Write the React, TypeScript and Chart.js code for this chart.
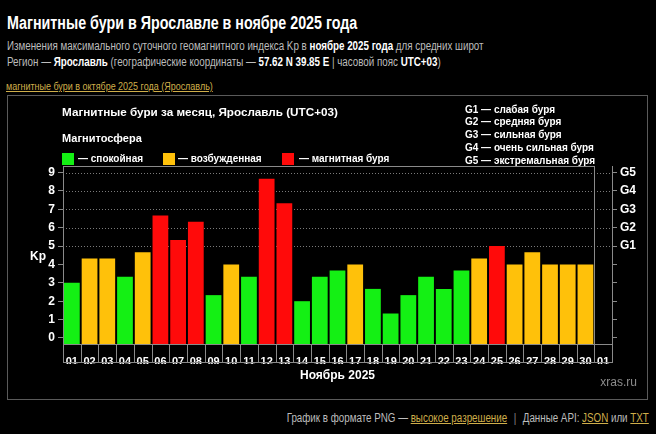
import React, { useEffect, useRef } from 'react';
import { Chart, registerables } from 'chart.js';

Chart.register(...registerables);

const days = ['01','02','03','04','05','06','07','08','09','10','11','12','13','14','15','16','17','18','19','20','21','22','23','24','25','26','27','28','29','30','01'];
const kpValues: (number | null)[] = [3.0, 4.33, 4.33, 3.33, 4.67, 6.67, 5.33, 6.33, 2.33, 4.0, 3.33, 8.67, 7.33, 2.0, 3.33, 3.67, 4.0, 2.67, 1.33, 2.33, 3.33, 2.67, 3.67, 4.33, 5.0, 4.0, 4.67, 4.0, 4.0, 4.0, null];
const kpTicks = [0, 1, 2, 3, 4, 5, 6, 7, 8, 9];
const gLevels = [5, 6, 7, 8, 9];
const gLabels = ['G1', 'G2', 'G3', 'G4', 'G5'];
const gDescriptions = ['G1 — слабая буря', 'G2 — средняя буря', 'G3 — сильная буря', 'G4 — очень сильная буря', 'G5 — экстремальная буря'];
const legendItems = ['— спокойная', '— возбужденная', '— магнитная буря'];
const monthTitle = 'Ноябрь 2025';
const chartTitle = 'Магнитные бури за месяц, Ярославль (UTC+03)';

const GREEN = '#14f014';
const ORANGE = '#ffc10a';
const RED = '#ff0a0a';
const GRID = '#8a8a8a';
const SANS = '"Liberation Sans", Arial, sans-serif';
const NARROW_SCALE = 0.816;

const colorFor = (v: number | null) => (v == null ? GREEN : v >= 5 ? RED : v >= 4 ? ORANGE : GREEN);

const Y_MIN = -0.33;
const Y_MAX = 9.36;

const overlayPlugin = {
  id: 'overlay',
  beforeDatasetsDraw(chart: any) {
    const { ctx, chartArea, scales } = chart;
    const y = scales.y;
    const x = scales.x;
    ctx.save();
    ctx.strokeStyle = '#7a7a7a';
    ctx.lineWidth = 1;
    ctx.setLineDash([1, 2]);
    gLevels.forEach((v) => {
      const py = Math.round(y.getPixelForValue(v)) + 0.5;
      ctx.beginPath();
      ctx.moveTo(chartArea.left, py);
      ctx.lineTo(chartArea.right, py);
      ctx.stroke();
    });
    ctx.setLineDash([]);
    const half = (x.getPixelForValue(1) - x.getPixelForValue(0)) / 2;
    const sepX = Math.round(x.getPixelForValue(days.length - 2) + half) + 0.5;
    ctx.strokeStyle = GRID;
    ctx.beginPath();
    ctx.moveTo(chartArea.left, Math.round(chartArea.top) + 0.5);
    ctx.lineTo(sepX, Math.round(chartArea.top) + 0.5);
    ctx.moveTo(sepX, chartArea.top);
    ctx.lineTo(sepX, chartArea.bottom);
    ctx.stroke();
    ctx.restore();
  },
  afterDraw(chart: any) {
    const { ctx, chartArea, scales } = chart;
    const x = scales.x;
    ctx.save();
    const step = x.getPixelForValue(1) - x.getPixelForValue(0);
    ctx.strokeStyle = GRID;
    ctx.lineWidth = 1;
    const top = Math.round(chartArea.bottom) + 0.5;
    for (let i = 0; i < days.length; i++) {
      const l = Math.round(x.getPixelForValue(i) - step / 2) + 0.5;
      const r = Math.round(x.getPixelForValue(i) + step / 2) + 0.5;
      ctx.strokeRect(l, top, r - l, 18);
    }
    ctx.fillStyle = '#ffffff';
    ctx.textBaseline = 'middle';
    ctx.font = `bold 12px ${SANS}`;
    ctx.textAlign = 'left';
    ctx.fillText('Kp', 22, 161);
    ctx.textAlign = 'center';
    ctx.fillText(monthTitle, (chartArea.left + chartArea.right) / 2, 280);
    ctx.fillStyle = '#8c8c8c';
    ctx.font = `12px ${SANS}`;
    ctx.textAlign = 'right';
    ctx.fillText('xras.ru', 629, 287);
    ctx.fillStyle = '#ffffff';
    ctx.textAlign = 'left';
    ctx.font = `bold 11.7px ${SANS}`;
    ctx.fillText(chartTitle, 54, 17);
    ctx.font = `bold 11px ${SANS}`;
    ctx.fillText('Магнитосфера', 54, 43);
    const sq = [54, 155, 274];
    const tx = [70, 170, 291];
    const cols = [GREEN, ORANGE, RED];
    ctx.font = `bold 10px ${SANS}`;
    for (let i = 0; i < 3; i++) {
      ctx.fillStyle = cols[i];
      ctx.fillRect(sq[i], 57, 12, 12);
      ctx.fillStyle = '#ffffff';
      ctx.fillText(legendItems[i], tx[i], 63);
    }
    const gy = [14, 26.5, 39, 52, 65];
    ctx.font = `bold 10px ${SANS}`;
    gDescriptions.forEach((t, i) => ctx.fillText(t, 457, gy[i]));
    ctx.restore();
  },
};

function KpChart() {
  const ref = useRef<HTMLCanvasElement | null>(null);
  useEffect(() => {
    if (!ref.current) return;
    const chart = new Chart(ref.current, {
      type: 'bar',
      data: {
        labels: days,
        datasets: [
          {
            data: kpValues as any,
            backgroundColor: kpValues.map(colorFor),
            borderWidth: 0,
            base: Y_MIN,
            barPercentage: 0.89,
            categoryPercentage: 1,
          } as any,
        ],
      },
      options: {
        animation: false,
        responsive: true,
        maintainAspectRatio: false,
        layout: { padding: { top: 70, bottom: 35, left: 0, right: 0 } },
        plugins: { legend: { display: false }, tooltip: { enabled: false }, title: { display: false } },
        scales: {
          x: {
            grid: { display: false },
            border: { display: false },
            ticks: {
              color: '#ffffff',
              font: { family: SANS, size: 11, weight: 'bold' },
              padding: 3,
              autoSkip: false,
              maxRotation: 0,
            },
            afterFit: (s: any) => { s.height = 20; },
          },
          y: {
            position: 'left',
            min: Y_MIN,
            max: Y_MAX,
            afterBuildTicks: (s: any) => { s.ticks = kpTicks.map((v) => ({ value: v })); },
            grid: { drawOnChartArea: false, drawTicks: true, tickLength: 5, color: GRID, tickColor: GRID },
            border: { display: true, color: GRID },
            ticks: { color: '#ffffff', font: { family: SANS, size: 12, weight: 'bold' }, padding: 3 },
            afterFit: (s: any) => { s.width = 55; },
          },
          y2: {
            position: 'right',
            min: Y_MIN,
            max: Y_MAX,
            afterBuildTicks: (s: any) => { s.ticks = kpTicks.map((v) => ({ value: v })); },
            grid: { drawOnChartArea: false, drawTicks: true, tickLength: 5, color: GRID, tickColor: GRID },
            border: { display: true, color: GRID },
            ticks: {
              color: '#ffffff',
              font: { family: SANS, size: 12, weight: 'bold' },
              padding: 3,
              callback: (v: any) => {
                const idx = gLevels.indexOf(Number(v));
                return idx >= 0 ? gLabels[idx] : '';
              },
            },
            afterFit: (s: any) => { s.width = 35; },
          },
        },
      } as any,
      plugins: [overlayPlugin],
    });
    return () => chart.destroy();
  }, []);
  return <canvas ref={ref} />;
}

const linkStyle: React.CSSProperties = { color: '#cfae4a', textDecoration: 'underline' };

export default function App() {
  useEffect(() => {
    document.body.style.margin = '0';
    document.body.style.background = '#000';
    document.documentElement.style.background = '#000';
  }, []);
  const abs = (top: number, extra: React.CSSProperties = {}): React.CSSProperties => ({
    position: 'absolute', top, left: 7, whiteSpace: 'nowrap',
    transform: `scaleX(${NARROW_SCALE})`, transformOrigin: 'left center', ...extra,
  });
  return (
    <div style={{ position: 'relative', width: 656, height: 434, background: '#000', overflow: 'hidden', fontFamily: SANS }}>
      <div style={abs(13, { fontSize: 17.5, lineHeight: '20px', fontWeight: 'bold', color: '#fff' })}>
        Магнитные бури в Ярославле в ноябре 2025 года
      </div>
      <div style={abs(39, { fontSize: 12, lineHeight: '14px', color: '#bdbdbd' })}>
        Изменения максимального суточного геомагнитного индекса Kp в <b style={{ color: '#fff' }}>ноябре 2025 года</b> для средних широт
      </div>
      <div style={abs(55, { fontSize: 12, lineHeight: '14px', color: '#bdbdbd' })}>
        Регион — <b style={{ color: '#fff' }}>Ярославль</b> (географические координаты — <b style={{ color: '#fff' }}>57.62 N 39.85 E</b> | часовой пояс <b style={{ color: '#fff' }}>UTC+03</b>)
      </div>
      <div style={abs(80, { fontSize: 11, lineHeight: '13px', left: 6 })}>
        <span style={linkStyle}>магнитные бури в октябре 2025 года (Ярославль)</span>
      </div>
      <div style={{ position: 'absolute', left: 7, top: 95, width: 641, height: 305, border: '1px solid #5a5a5a', boxSizing: 'border-box' }}>
        <div style={{ position: 'relative', width: 639, height: 303 }}>
          <KpChart />
        </div>
      </div>
      <div style={{ position: 'absolute', top: 411, right: 7, fontSize: 12, lineHeight: '14px', color: '#bdbdbd', whiteSpace: 'nowrap', transform: `scaleX(${NARROW_SCALE})`, transformOrigin: 'right center' }}>
        График в формате PNG — <span style={linkStyle}>высокое разрешение</span>
        <span style={{ margin: '0 8px', color: '#888' }}>|</span>
        Данные API: <span style={linkStyle}>JSON</span> или <span style={linkStyle}>TXT</span>
      </div>
    </div>
  );
}
